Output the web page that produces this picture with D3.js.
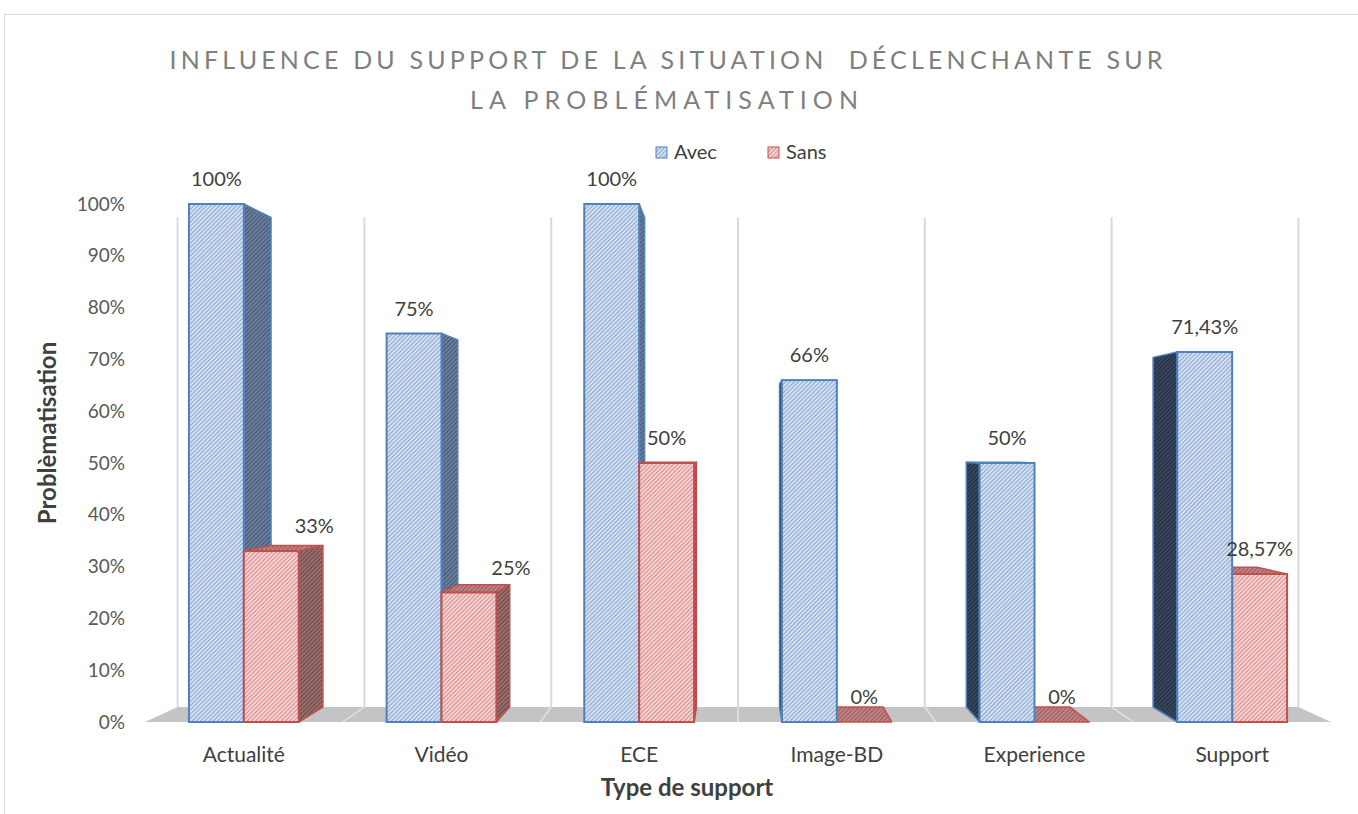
<!DOCTYPE html>
<html lang="fr">
<head>
<meta charset="UTF-8">
<title>Influence du support</title>
<script src="https://cdn.jsdelivr.net/npm/d3@7/dist/d3.min.js"></script>
<style>
  body { margin: 0; background: #fff; }
  text { font-family: Lato, "Open Sans", sans-serif; }
</style>
</head>
<body>
<div id="chart"></div>
<script>
// data
var categories = ["Actualité", "Vidéo", "ECE", "Image-BD", "Experience", "Support"];
var series = ["Avec", "Sans"];
var avec = [1, 0.75, 1, 0.66, 0.5, 0.7143];
var sans = [0.33, 0.25, 0.5, 0, 0, 0.2857];
var yTicks = [0, 0.1, 0.2, 0.3, 0.4, 0.5, 0.6, 0.7, 0.8, 0.9, 1];

var width = 1358, height = 814;

// fake 3d: vanishing point and depth factor for the back plane
var vx = 738, vy = 450, k = 0.945;
function back(p) { return [vx + (p[0] - vx) * k, vy + (p[1] - vy) * k]; }

var svg = d3.select("#chart").append("svg")
  .attr("width", width).attr("height", height);

// hatch patterns
var defs = svg.append("defs");
function hatch(id, base, stripe) {
  var p = defs.append("pattern").attr("id", id)
    .attr("patternUnits", "userSpaceOnUse")
    .attr("width", 3).attr("height", 3)
    .attr("patternTransform", "rotate(45)");
  p.append("rect").attr("width", 3).attr("height", 3).attr("fill", base);
  p.append("rect").attr("width", 1.2).attr("height", 3).attr("fill", stripe);
}
hatch("blueFront", "#dbe6f4", "#8ca7d2");
hatch("blueSideR", "#6e819c", "#44587a");
hatch("blueSideL", "#3a4860", "#222e40");
hatch("redFront", "#f8dada", "#d98c8c");
hatch("redSideR", "#9c7272", "#6f4747");
hatch("redTop", "#c28888", "#9a5a5a");

var colors = { Avec: "#4f81bd", Sans: "#c0504d" };
var fills = {
  Avec: { front: "url(#blueFront)", sideR: "url(#blueSideR)", sideL: "url(#blueSideL)", top: "url(#blueSideR)" },
  Sans: { front: "url(#redFront)", sideR: "url(#redSideR)", sideL: "url(#redSideR)", top: "url(#redTop)" }
};

// frame
svg.append("rect").attr("x", 4.5).attr("y", 14.5).attr("width", 1400).attr("height", 900)
  .attr("fill", "none").attr("stroke", "#d9d9d9");

// scales (front plane)
var x0 = d3.scaleBand().domain(categories).range([145, 1331]);
var x1 = d3.scaleBand().domain(series).range([0, x0.bandwidth()]).paddingOuter(0.8);
var y = d3.scaleLinear().domain([0, 1]).range([722, 204]);

// floor
var fl = [[145, y(0)], [1331, y(0)], back([1331, y(0)]), back([145, y(0)])];
svg.append("polygon").attr("points", fl.join(" ")).attr("fill", "#c4c4c4");

// category separators: on the back wall and across the floor
var bounds = categories.map(function(c) { return x0(c); }).concat([x0.range()[1]]);
bounds.forEach(function(bx, i) {
  var b0 = back([bx, y(0)]), b1 = back([bx, y(1)]);
  svg.append("line").attr("x1", b0[0]).attr("y1", b0[1]).attr("x2", b1[0]).attr("y2", b1[1])
    .attr("stroke", "#d9d9d9").attr("stroke-width", 2);
  if (i > 0 && i < bounds.length - 1) {
    svg.append("line").attr("x1", bx).attr("y1", y(0)).attr("x2", b0[0]).attr("y2", b0[1])
      .attr("stroke", "#e2e2e2").attr("stroke-width", 1.5);
  }
});

// bars
var bars = [];
categories.forEach(function(c, i) {
  bars.push({ cat: c, s: "Avec", v: avec[i] });
  bars.push({ cat: c, s: "Sans", v: sans[i] });
});
bars.forEach(function(d) {
  d.xl = x0(d.cat) + x1(d.s);
  d.xr = d.xl + x1.bandwidth();
  d.yt = y(d.v);
  d.yb = y(0);
});
// paint the ones far from the vanishing point first
bars.sort(function(a, b) {
  return Math.abs((b.xl + b.xr) / 2 - vx) - Math.abs((a.xl + a.xr) / 2 - vx);
});

var gBars = svg.append("g");
bars.forEach(function(d) {
  var g = gBars.append("g");
  var col = colors[d.s], f = fills[d.s];
  if (d.xr < vx && d.v > 0) {
    var pr = [[d.xr, d.yt], [d.xr, d.yb], back([d.xr, d.yb]), back([d.xr, d.yt])];
    g.append("polygon").attr("points", pr.join(" ")).attr("fill", f.sideR)
      .attr("stroke", col).attr("stroke-width", 1.5).attr("stroke-linejoin", "round");
  }
  if (d.xl > vx && d.v > 0) {
    var pl = [[d.xl, d.yt], [d.xl, d.yb], back([d.xl, d.yb]), back([d.xl, d.yt])];
    g.append("polygon").attr("points", pl.join(" ")).attr("fill", f.sideL)
      .attr("stroke", col).attr("stroke-width", 1.5).attr("stroke-linejoin", "round");
  }
  if (d.yt > vy) {
    var pt = [[d.xl, d.yt], [d.xr, d.yt], back([d.xr, d.yt]), back([d.xl, d.yt])];
    g.append("polygon").attr("points", pt.join(" ")).attr("fill", f.top)
      .attr("stroke", col).attr("stroke-width", 1.5).attr("stroke-linejoin", "round");
  }
  if (d.v > 0) {
    g.append("rect").attr("x", d.xl).attr("y", d.yt)
      .attr("width", d.xr - d.xl).attr("height", d.yb - d.yt)
      .attr("fill", f.front).attr("stroke", col).attr("stroke-width", 2);
  }
});

// value labels
var fr = d3.formatLocale({ decimal: ",", thousands: " ", grouping: [3], currency: ["", " €"] });
var pct = fr.format(".2~%");
var labelDx = { "Sans|Actualité": 43, "Sans|Vidéo": 42 };
svg.append("g").selectAll("text").data(bars).join("text")
  .attr("x", function(d) { return (d.xl + d.xr) / 2 + (labelDx[d.s + "|" + d.cat] || 0); })
  .attr("y", function(d) { return d.yt - 18; })
  .attr("text-anchor", "middle")
  .attr("font-size", 20).attr("fill", "#404040")
  .text(function(d) { return pct(d.v); });

// y axis
var yAxis = d3.axisLeft(y).tickValues(yTicks).tickFormat(fr.format(".0%")).tickSize(0).tickPadding(0);
var gy = svg.append("g").attr("transform", "translate(125,0)").call(yAxis);
gy.select(".domain").remove();
gy.selectAll("text").attr("font-size", 19).attr("fill", "#595959")
  .style("font-family", "Lato, sans-serif");

// category labels
svg.append("g").selectAll("text").data(categories).join("text")
  .attr("x", function(c) { return x0(c) + x0.bandwidth() / 2; })
  .attr("y", 762)
  .attr("text-anchor", "middle")
  .attr("font-size", 21).attr("fill", "#404040")
  .text(function(c) { return c; });

// axis titles
svg.append("text").attr("transform", "translate(48,433) rotate(-90)")
  .attr("text-anchor", "middle").attr("dy", "0.35em")
  .attr("font-size", 24).attr("font-weight", "bold").attr("fill", "#404040")
  .text("Problèmatisation");
svg.append("text").attr("x", 687).attr("y", 796)
  .attr("text-anchor", "middle")
  .attr("font-size", 24).attr("font-weight", "bold").attr("fill", "#404040")
  .text("Type de support");

// title
svg.append("text").attr("x", 666).attr("y", 69).attr("text-anchor", "middle")
  .attr("font-size", 25).attr("fill", "#7f7f7f")
  .attr("textLength", 993).attr("lengthAdjust", "spacing")
  .text("INFLUENCE DU SUPPORT DE LA SITUATION  DÉCLENCHANTE SUR")
  .style("white-space", "pre");
svg.append("text").attr("x", 664).attr("y", 109).attr("text-anchor", "middle")
  .attr("font-size", 25).attr("fill", "#7f7f7f")
  .attr("textLength", 388).attr("lengthAdjust", "spacing")
  .text("LA PROBLÉMATISATION");

// legend
var legX = [656, 768];
var leg = svg.append("g").selectAll("g").data(series).join("g")
  .attr("transform", function(s, i) { return "translate(" + legX[i] + ",147)"; });
leg.append("rect").attr("width", 11).attr("height", 11)
  .attr("fill", function(s) { return fills[s].front; })
  .attr("stroke", function(s) { return colors[s]; }).attr("stroke-width", 1);
leg.append("text").attr("x", 18).attr("y", 12)
  .attr("font-size", 20).attr("fill", "#404040")
  .text(function(s) { return s; });
</script>
</body>
</html>
